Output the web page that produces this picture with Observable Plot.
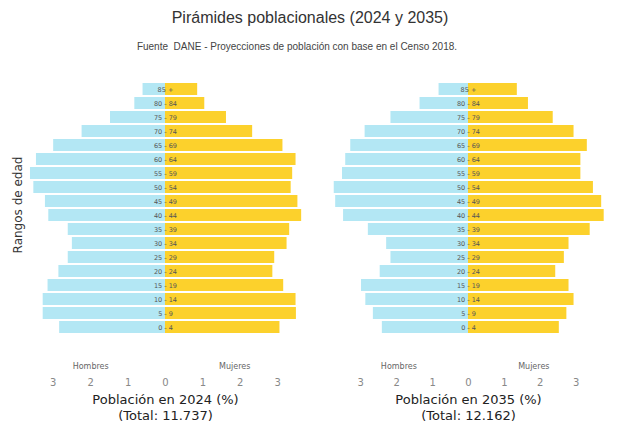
<!DOCTYPE html>
<html>
<head>
<meta charset="utf-8">
<script src="https://cdn.jsdelivr.net/npm/d3@7"></script>
<script src="https://cdn.jsdelivr.net/npm/@observablehq/plot@0.6"></script>
<style>
  body { margin: 0; background: #fff; }
  #wrap { position: relative; width: 623px; height: 429px; overflow: hidden; background: #fff; }
  #title { position: absolute; left: 0; width: 620px; top: 8px; text-align: center;
    font-family: "Liberation Sans", Arial, sans-serif; font-size: 16px; line-height: 20px; color: #333; }
  #subtitle { position: absolute; left: 0; width: 594px; top: 41px; text-align: center;
    font-family: "Liberation Sans", Arial, sans-serif; font-size: 10px; line-height: 12px; color: #444; }
  #ylab { position: absolute; left: 18px; top: 205px; transform: translate(-50%, -50%) rotate(-90deg);
    font-family: "DejaVu Sans", sans-serif; font-size: 12px; color: #333; white-space: nowrap; }
  .panel { position: absolute; top: 60px; }
  #p1 { left: 25px; }
  #p2 { left: 328px; }
</style>
</head>
<body>
<div id="wrap">
  <div id="title">Pirámides poblacionales (2024 y 2035)</div>
  <div id="subtitle">Fuente&nbsp; DANE - Proyecciones de población con base en el Censo 2018.</div>
  <div id="ylab">Rangos de edad</div>
  <div class="panel" id="p1"></div>
  <div class="panel" id="p2"></div>
</div>
<script>
// Age groups, top to bottom
const ages = ["85 +", "80 - 84", "75 - 79", "70 - 74", "65 - 69", "60 - 64", "55 - 59", "50 - 54", "45 - 49",
  "40 - 44", "35 - 39", "30 - 34", "25 - 29", "20 - 24", "15 - 19", "10 - 14", "5 - 9", "0 - 4"];

// Percent of total population
const hombres2024 = [0.60, 0.82, 1.47, 2.23, 2.99, 3.45, 3.61, 3.52, 3.21, 3.12, 2.60, 2.49, 2.60, 2.85, 3.14, 3.27, 3.27, 2.83];
const mujeres2024 = [0.86, 1.05, 1.63, 2.33, 3.14, 3.49, 3.40, 3.36, 3.54, 3.64, 3.32, 3.25, 2.92, 2.87, 3.16, 3.49, 3.50, 3.06];
const hombres2035 = [0.82, 1.35, 2.16, 2.88, 3.28, 3.42, 3.51, 3.74, 3.70, 3.48, 2.79, 2.28, 2.16, 2.46, 2.98, 2.86, 2.65, 2.40];
const mujeres2035 = [1.36, 1.67, 2.36, 2.94, 3.31, 3.13, 3.13, 3.48, 3.71, 3.78, 3.39, 2.80, 2.67, 2.43, 2.80, 2.94, 2.74, 2.53];

const tickValues = [-3, -2, -1, 0, 1, 2, 3];
const sexLabels = ["Hombres", "Mujeres"];
const titles = ["Población en 2024 (%)\n(Total: 11.737)", "Población en 2035 (%)\n(Total: 12.162)"];

const blue = "#b3e7f4";
const yellow = "#fcd12c";

function pyramid(men, women, title, D, sexPos) {
  const menData = ages.map((a, i) => ({age: a, v: -men[i]}));
  const womenData = ages.map((a, i) => ({age: a, v: women[i]}));
  return Plot.plot({
    width: 280,
    height: 365,
    marginTop: 15,
    marginBottom: 83,
    marginLeft: 0,
    marginRight: 0,
    style: {fontFamily: "DejaVu Sans, sans-serif", background: "transparent", overflow: "visible"},
    x: {domain: [-D, D], label: null},
    y: {domain: ages, padding: 0.13, axis: null},
    marks: [
      Plot.barX(menData, {x: "v", y: "age", fill: blue}),
      Plot.barX(womenData, {x: "v", y: "age", fill: yellow}),
      Plot.text(ages, {x: 0, y: d => d, text: d => d, fontSize: 6.5, fill: "#555"}),
      Plot.axisX({ticks: tickValues, tickSize: 0, tickPadding: 36, tickFormat: d => Math.abs(d),
        fontSize: 10, color: "#888", label: null}),
      Plot.text(sexLabels, {x: (d, i) => sexPos[i], text: d => d, frameAnchor: "bottom", lineAnchor: "middle",
        dy: 24, fontSize: 8, fill: "#666"}),
      Plot.text([title], {x: 0, text: d => d, frameAnchor: "bottom", lineAnchor: "middle", dy: 64, fontSize: 13,
        lineHeight: 1.23, fill: "#222"})
    ]
  });
}

document.getElementById("p1").append(pyramid(hombres2024, mujeres2024, titles[0], 3.743, [-2.0, 1.85]));
document.getElementById("p2").append(pyramid(hombres2035, mujeres2035, titles[1], 3.9, [-1.94, 1.82]));
</script>
</body>
</html>
